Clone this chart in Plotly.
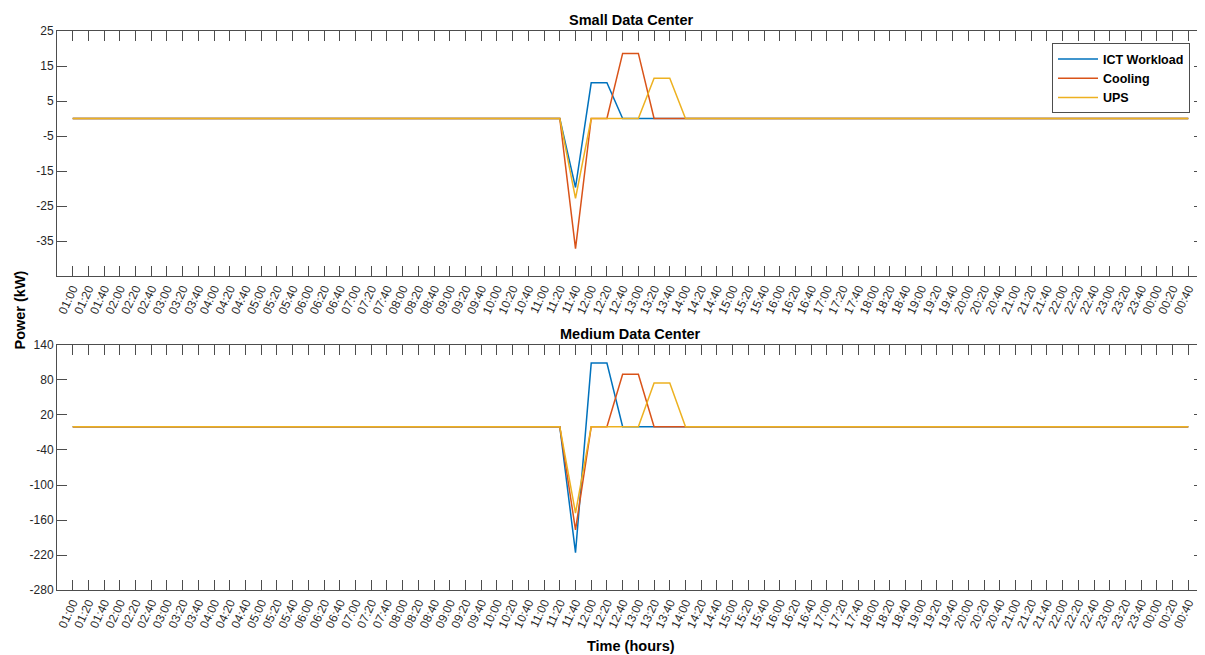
import plotly.graph_objects as go
from plotly.subplots import make_subplots

time_labels = [
    "01:00", "01:20", "01:40", "02:00", "02:20", "02:40", "03:00", "03:20", "03:40",
    "04:00", "04:20", "04:40", "05:00", "05:20", "05:40", "06:00", "06:20", "06:40",
    "07:00", "07:20", "07:40", "08:00", "08:20", "08:40", "09:00", "09:20", "09:40",
    "10:00", "10:20", "10:40", "11:00", "11:20", "11:40", "12:00", "12:20", "12:40",
    "13:00", "13:20", "13:40", "14:00", "14:20", "14:40", "15:00", "15:20", "15:40",
    "16:00", "16:20", "16:40", "17:00", "17:20", "17:40", "18:00", "18:20", "18:40",
    "19:00", "19:20", "19:40", "20:00", "20:20", "20:40", "21:00", "21:20", "21:40",
    "22:00", "22:20", "22:40", "23:00", "23:20", "23:40", "00:00", "00:20", "00:40",
]

# Small data center (kW); index 31 = 11:20
small_ict = [0] * 32 + [-19.7, 10.2, 10.2, 0] + [0] * 36
small_cooling = [0] * 32 + [-37.2, 0, 0, 18.6, 18.6, 0] + [0] * 34
small_ups = [0] * 32 + [-22.8, 0, 0, 0, 0, 11.5, 11.5, 0] + [0] * 32

# Medium data center (kW)
medium_ict = [0] * 32 + [-216, 109, 109, 0] + [0] * 36
medium_cooling = [0] * 32 + [-177, 0, 0, 90, 90, 0] + [0] * 34
medium_ups = [0] * 32 + [-148, 0, 0, 0, 0, 75, 75, 0] + [0] * 32

series_names = ["ICT Workload", "Cooling", "UPS"]
colors = ["#0072BD", "#D95319", "#EDB120"]

small_ticks = [25, 15, 5, -5, -15, -25, -35]
small_tick_text = ["25", "15", "5", "-5", "-15", "-25", "-35"]
medium_ticks = [140, 80, 20, -40, -100, -160, -220, -280]
medium_tick_text = ["140", "80", "20", "-40", "-100", "-160", "-220", "-280"]

x = list(range(len(time_labels)))

fig = make_subplots(rows=2, cols=1, vertical_spacing=0.1234)

for name, vals, c in zip(series_names, [small_ict, small_cooling, small_ups], colors):
    fig.add_trace(go.Scatter(x=x, y=vals, mode="lines", name=name,
                             line=dict(color=c, width=1.5)), row=1, col=1)
for name, vals, c in zip(series_names, [medium_ict, medium_cooling, medium_ups], colors):
    fig.add_trace(go.Scatter(x=x, y=vals, mode="lines", name=name, showlegend=False,
                             line=dict(color=c, width=1.5)), row=2, col=1)

axis_font = dict(family="Liberation Sans, Arial, sans-serif", size=12, color="#262626")
common_x = dict(
    tickmode="array", tickvals=x, ticktext=time_labels, tickangle=-65,
    range=[-1, len(time_labels)], ticks="inside", ticklen=10, tickwidth=1,
    tickcolor="#4d4d4d", showline=True, linecolor="#4d4d4d", linewidth=1,
    mirror="ticks", showgrid=False, zeroline=False, tickfont=axis_font,
    automargin=False,
)
common_y = dict(
    ticks="inside", ticklen=10, tickwidth=1, tickcolor="#4d4d4d", showline=True,
    linecolor="#4d4d4d", linewidth=1, mirror="ticks", showgrid=False,
    zeroline=False, tickfont=axis_font, automargin=False, tickmode="array",
)

fig.update_xaxes(**common_x, row=1, col=1)
fig.update_xaxes(**common_x, row=2, col=1)
fig.update_yaxes(**common_y, range=[-45, 25], tickvals=small_ticks,
                 ticktext=small_tick_text, row=1, col=1)
fig.update_yaxes(**common_y, range=[-280, 140], tickvals=medium_ticks,
                 ticktext=medium_tick_text, row=2, col=1)

fig.update_layout(
    xaxis=dict(domain=[0, 1]), xaxis2=dict(domain=[0, 1]),
    yaxis=dict(domain=[0.5617, 1.0]), yaxis2=dict(domain=[0.0, 0.4383]),
)

bold = dict(family="Liberation Sans, Arial, sans-serif", size=14.5, color="#000000")
# page body has an 8px default margin, so the figure is sized/offset to compensate
fig.update_layout(
    width=1197, height=647,
    margin=dict(l=49, r=1, t=23, b=65),
    paper_bgcolor="white", plot_bgcolor="white",
    showlegend=True,
    legend=dict(
        x=0.9878, y=0.978, xanchor="right", yanchor="top",
        bordercolor="#4d4d4d", borderwidth=1, bgcolor="white",
        font=dict(family="Liberation Sans, Arial, sans-serif", size=12.5, color="#000000", weight="bold"),
        tracegroupgap=0, itemwidth=40,
    ),
    annotations=[
        dict(text="<b>Small Data Center</b>", x=0.5, y=1.0, xref="paper", yref="paper",
             xanchor="center", yanchor="bottom", yshift=1, showarrow=False, font=bold),
        dict(text="<b>Medium Data Center</b>", x=0.5, y=0.4383, xref="paper", yref="paper",
             xanchor="center", yanchor="bottom", yshift=1, showarrow=False, font=bold),
        dict(text="<b>Power (kW)</b>", x=0, y=0.5, xref="paper", yref="paper",
             xanchor="center", yanchor="middle", xshift=-38,
             showarrow=False, textangle=-90, font=bold),
        dict(text="<b>Time (hours)</b>", x=0.5, y=0, xref="paper", yref="paper",
             xanchor="center", yanchor="middle", yshift=-56, showarrow=False, font=bold),
    ],
)

fig.write_html("out.html")
